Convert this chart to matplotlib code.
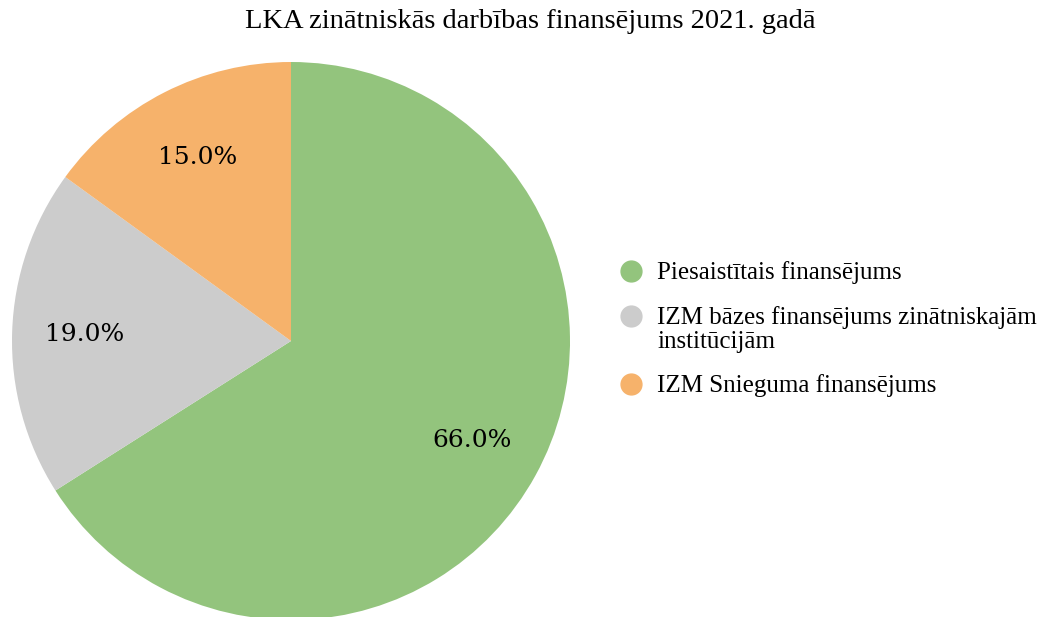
import matplotlib.pyplot as plt
from matplotlib.lines import Line2D

# dati
kategorijas = ["Piesaistītais finansējums",
               "IZM bāzes finansējums zinātniskajām\ninstitūcijām",
               "IZM Snieguma finansējums"]
vertibas = [66.0, 19.0, 15.0]
krasas = ["#93c47d", "#cccccc", "#f6b26b"]
virsraksts = "LKA zinātniskās darbības finansējums 2021. gadā"

fig = plt.figure(figsize=(10.45, 6.17), dpi=100)
ax = fig.add_axes([12/1045, -3/617, 558/1045, 558/617])

wedges, texts, autotexts = ax.pie(vertibas, colors=krasas, startangle=90, counterclock=False,
                                  autopct="%.1f%%", pctdistance=0.74, radius=1.0,
                                  wedgeprops={"linewidth": 0},
                                  textprops={"fontsize": 18, "family": "DejaVu Serif", "color": "black"})
ax.set_xlim(-1, 1)
ax.set_ylim(-1, 1)
ax.set_aspect("equal")
ax.axis("off")

fig.text(530/1045, 1 - 22/617, virsraksts, ha="center", va="center", fontsize=20.5,
         family="Liberation Serif")

# leģenda ar rokām, lai aplis būtu pie pirmās rindas
leg_y = [271, 316, 384]
for lab, c, y in zip(kategorijas, krasas, leg_y):
    fig.add_artist(Line2D([631/1045], [1 - y/617], marker="o", linestyle="", markersize=15,
                          markerfacecolor=c, markeredgecolor=c, transform=fig.transFigure))
    fig.text(657/1045, 1 - (y - 10)/617, lab, ha="left", va="top", fontsize=18,
             family="Liberation Serif", linespacing=1.12)

fig.savefig("out.png", dpi=100)
